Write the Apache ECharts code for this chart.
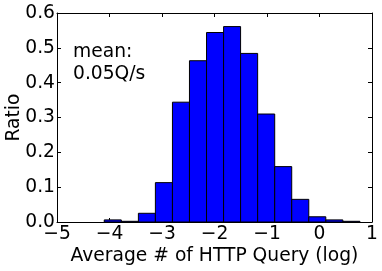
<!DOCTYPE html>
<html><head><meta charset="utf-8">
<script src="https://cdn.jsdelivr.net/npm/echarts@6/dist/echarts.min.js"></script>
<style>html,body{margin:0;padding:0;background:#fff}#c{width:382px;height:271px}</style>
</head><body><div id="c"></div>
<script>
var binEdges = [-4.10, -3.775, -3.45, -3.126, -2.801, -2.477, -2.152, -1.827, -1.503, -1.178, -0.853, -0.529, -0.204, 0.120, 0.445, 0.77];
var ratios = [0.006, 0.002, 0.025, 0.113, 0.344, 0.463, 0.544, 0.561, 0.484, 0.310, 0.159, 0.065, 0.015, 0.006, 0.002];
var xTicks = [-5, -4, -3, -2, -1, 0, 1];
var yTicks = [0.0, 0.1, 0.2, 0.3, 0.4, 0.5, 0.6];
var annotation = ['mean:', '0.05Q/s'];

var data = ratios.map(function (v, i) { return [binEdges[i], binEdges[i + 1], v]; });
var FONT = 'DejaVu Sans';
var FS = 18.7;
var chart = echarts.init(document.getElementById('c'), null, {renderer: 'canvas'});
function fmtY(v) { return v.toFixed(1); }
function fmtX(v) { return String(v).replace('-', '\u2212'); }
var axisCommonX = {
  type: 'value', min: xTicks[0], max: xTicks[xTicks.length - 1], interval: 1,
  splitLine: {show: false},
  axisLine: {show: true, onZero: false, lineStyle: {color: '#000', width: 1}},
  axisTick: {show: true, inside: true, length: 4, lineStyle: {color: '#000'}}
};
var axisCommonY = {
  type: 'value', min: yTicks[0], max: yTicks[yTicks.length - 1], interval: 0.1,
  splitLine: {show: false},
  axisLine: {show: true, onZero: false, lineStyle: {color: '#000', width: 1}},
  axisTick: {show: true, inside: true, length: 4, lineStyle: {color: '#000'}}
};
chart.setOption({
  animation: false,
  grid: {left: 57, right: 10, top: 13, bottom: 49, containLabel: false, outerBoundsMode: 'none'},
  xAxis: [
    Object.assign({}, axisCommonX, {
      position: 'bottom',
      name: 'Average # of HTTP Query (log)', nameLocation: 'middle', nameGap: 25, nameMoveOverlap: false,
      nameTextStyle: {fontFamily: FONT, fontSize: FS, color: '#000'},
      axisLabel: {fontFamily: FONT, fontSize: FS, color: '#000', margin: 3, formatter: fmtX, hideOverlap: false}
    }),
    Object.assign({}, axisCommonX, {position: 'top', axisLabel: {show: false}})
  ],
  yAxis: [
    Object.assign({}, axisCommonY, {
      position: 'left',
      name: 'Ratio', nameLocation: 'middle', nameGap: 33, nameRotate: 90, nameMoveOverlap: false,
      nameTextStyle: {fontFamily: FONT, fontSize: FS, color: '#000'},
      axisLabel: {fontFamily: FONT, fontSize: FS, color: '#000', margin: 2, formatter: fmtY, hideOverlap: false}
    }),
    Object.assign({}, axisCommonY, {position: 'right', axisLabel: {show: false}})
  ],
  graphic: [{
    type: 'text', left: 73, top: 41,
    style: {text: annotation.join('\n'), fontFamily: FONT, fontSize: FS, fill: '#000', lineHeight: 22}
  }],
  series: [{
    type: 'custom',
    xAxisIndex: 0, yAxisIndex: 0,
    data: data,
    renderItem: function (params, api) {
      var p0 = api.coord([api.value(0), api.value(2)]);
      var p1 = api.coord([api.value(1), 0]);
      return {
        type: 'rect',
        shape: {x: p0[0], y: p0[1], width: p1[0] - p0[0], height: p1[1] - p0[1]},
        style: {fill: '#0000ff', stroke: '#000', lineWidth: 1}
      };
    },
    encode: {x: [0, 1], y: 2}
  }]
});
</script></body></html>
